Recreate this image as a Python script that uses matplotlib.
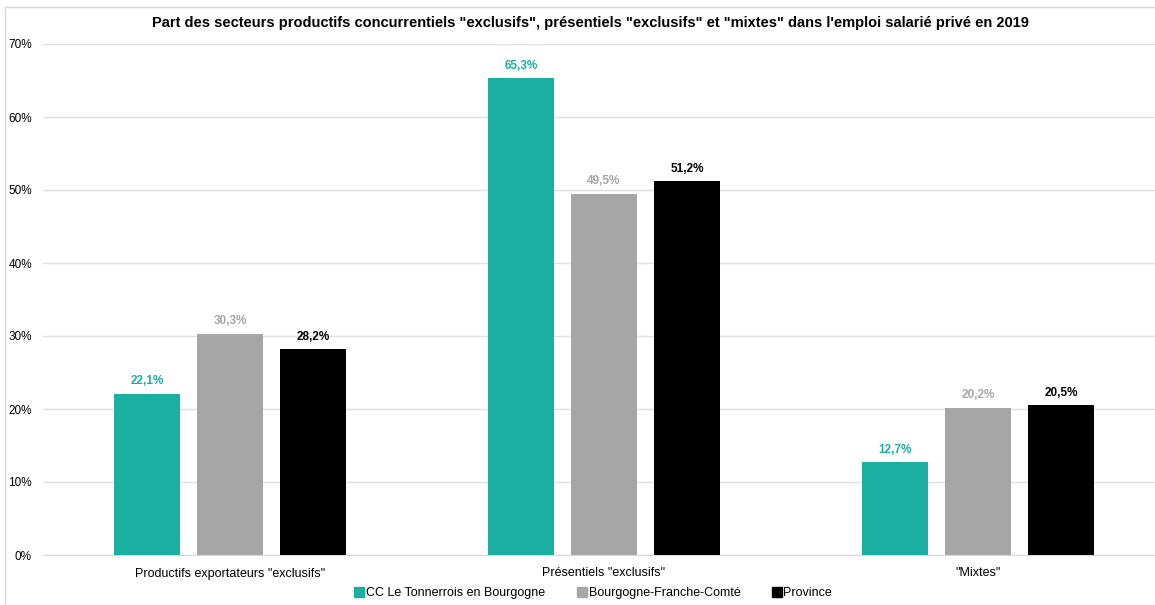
import matplotlib
matplotlib.use("Agg")
import matplotlib.pyplot as plt
from matplotlib.lines import Line2D
import numpy as np

plt.rcParams['font.family'] = ['Liberation Sans', 'DejaVu Sans']

categories = ['Productifs exportateurs "exclusifs"', 'Présentiels "exclusifs"', '"Mixtes"']
series_names = ['CC Le Tonnerrois en Bourgogne', 'Bourgogne-Franche-Comté', 'Province']
values_cc = [22.1, 65.3, 12.7]
values_bfc = [30.3, 49.5, 20.2]
values_prov = [28.2, 51.2, 20.5]
colors = ['#1AAFA0', '#A6A6A6', '#000000']
yticks = [0, 10, 20, 30, 40, 50, 60, 70]

W, H = 1155, 605
fig = plt.figure(figsize=(W/100, H/100), dpi=100)
ax = fig.add_axes([43/W, (H-555)/H, 1122/W, 511/H])

x = np.arange(len(categories))
width = 0.174
offset = 0.222
all_vals = [values_cc, values_bfc, values_prov]
for i, (vals, col, name) in enumerate(zip(all_vals, colors, series_names)):
    pos = x + (i-1)*offset
    ax.bar(pos, vals, width, color=col, label=name, zorder=3)
    for p, v in zip(pos, vals):
        ax.text(p, v + 0.9, f"{v:.1f}".replace('.', ',') + '%', ha='center', va='bottom',
                fontsize=8.5, fontweight='bold', color=col)

ax.set_xlim(-0.5, 2.5)
ax.set_ylim(0, 70)
ax.set_yticks(yticks)
ax.set_yticklabels([f"{t}%" for t in yticks], fontsize=8.5)
ax.set_xticks(x)
ax.set_xticklabels(categories, fontsize=9)
ax.tick_params(axis='both', length=0)
ax.tick_params(axis='y', pad=8)
ax.tick_params(axis='x', pad=9)
ax.grid(axis='y', color='#E0E0E0', linewidth=1, zorder=0)
for s in ['top', 'right', 'left']:
    ax.spines[s].set_visible(False)
ax.spines['bottom'].set_color('#D9D9D9')

fig.text(590/W, 1-23/H, 'Part des secteurs productifs concurrentiels "exclusifs", présentiels "exclusifs" et "mixtes" dans l\'emploi salarié privé en 2019',
         ha='center', va='center', fontsize=10.5, fontweight='bold')

handles = [Line2D([0], [0], marker='s', color='none', markerfacecolor=c, markeredgecolor=c, markersize=7)
           for c in colors]
fig.legend(handles, series_names, loc='center', bbox_to_anchor=(594/W, 1-593/H), ncol=3,
           frameon=False, fontsize=9, handlelength=0.6, handletextpad=0.25, columnspacing=2.6)

# chart border (left and top visible)
fig.add_artist(Line2D([5/W, 5/W], [0, 1-7/H], color='#D9D9D9', linewidth=1, transform=fig.transFigure))
fig.add_artist(Line2D([5/W, 1], [1-7/H, 1-7/H], color='#D9D9D9', linewidth=1, transform=fig.transFigure))

fig.savefig('out.png', dpi=100)
